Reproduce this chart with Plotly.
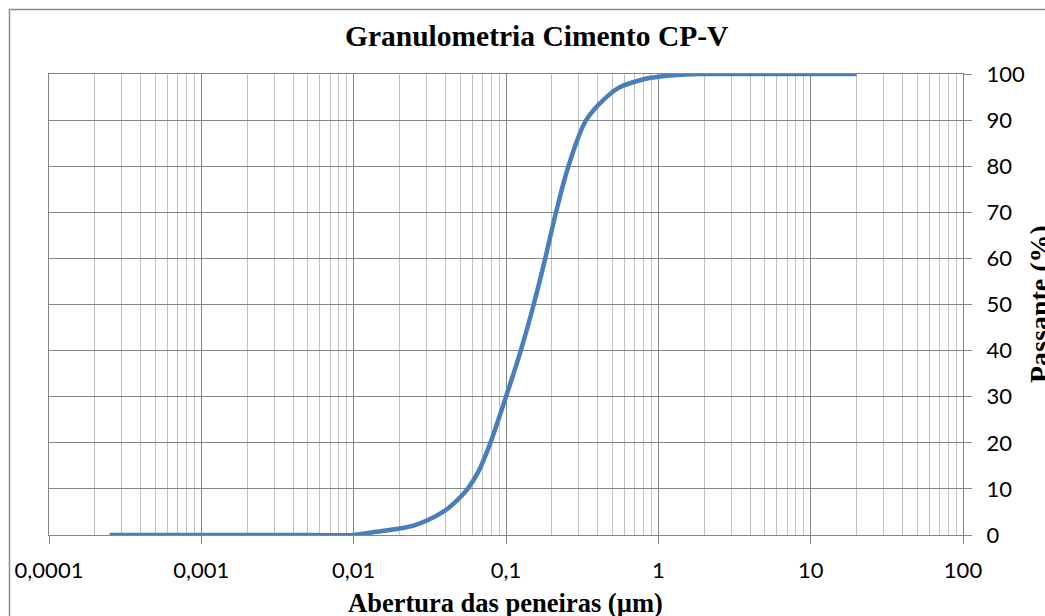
import numpy as np
import plotly.graph_objects as go

# ---- data ----
abertura_um = [0.00025, 0.001, 0.005, 0.01, 0.0134, 0.02, 0.025, 0.031, 0.0386, 0.047,
               0.056, 0.066, 0.078, 0.1, 0.125, 0.152, 0.181, 0.213, 0.257, 0.336,
               0.456, 0.557, 0.79, 1.0, 1.5, 2, 5, 10, 20]
passante_pct = [0, 0, 0, 0, 0.6, 1.4, 2.1, 3.3, 5, 7.3,
                10, 13.8, 19.5, 30, 40, 50, 60, 70, 80, 90,
                95, 97.1, 98.8, 99.4, 99.9, 100, 100, 100, 100]

x_tick_vals = [0.0001, 0.001, 0.01, 0.1, 1, 10, 100]
x_tick_text = ["0,0001", "0,001", "0,01", "0,1", "1", "10", "100"]
y_tick_vals = list(range(0, 101, 10))

title_text = "Granulometria Cimento CP-V"
x_title = "Abertura das peneiras (µm)"
y_title = "Passante (%)"

# ---- figure geometry ----
W, H = 1045, 616
ML, MR, MT, MB = 49, 82, 74, 81
PW, PH = W - ML - MR, H - MT - MB

def px_x(px):
    return (px - ML) / PW

def px_y(py):
    return (H - MB - py) / PH

minor_vals = [m * 10.0 ** e for e in range(-4, 2) for m in range(2, 10)]

serif = "Times New Roman, Liberation Serif, serif"
sans = "Lato, Carlito, Calibri, sans-serif"
major_grid = "#858585"
minor_grid = "#c0c0c0"

fig = go.Figure()
fig.add_trace(go.Scatter(
    x=abertura_um, y=passante_pct, mode="lines",
    line=dict(color="#4A7EBB", width=4.5, shape="spline", smoothing=1.0),
    showlegend=False, hoverinfo="x+y",
))

fig.update_layout(
    width=W, height=H,
    margin=dict(l=ML, r=MR, t=MT, b=MB, pad=0),
    paper_bgcolor="white", plot_bgcolor="white",
    showlegend=False,
    title=dict(text="<b>" + title_text + "</b>", x=536.7 / W, xref="container",
               xanchor="center", y=1 - 36 / H, yref="container", yanchor="middle",
               font=dict(family=serif, size=29.5, color="black")),
)

fig.update_xaxes(
    type="log", range=[-4, 2],
    tickmode="array", tickvals=x_tick_vals, ticktext=x_tick_text,
    showgrid=True, gridcolor=major_grid, gridwidth=1,
    ticks="outside", ticklen=8, tickcolor=major_grid, tickwidth=1,
    showline=True, linecolor=major_grid, linewidth=1, mirror=True,
    tickfont=dict(family=sans, size=22, color="black"),
    ticklabelstandoff=8,
    minor=dict(tickmode="array", tickvals=minor_vals, showgrid=True,
               gridcolor=minor_grid, gridwidth=1, ticks=""),
    zeroline=False,
)
fig.update_yaxes(
    range=[0, 100], side="right",
    tickmode="array", tickvals=y_tick_vals,
    showgrid=True, gridcolor=major_grid, gridwidth=1,
    ticks="outside", ticklen=8, tickcolor=major_grid, tickwidth=1,
    showline=True, linecolor=major_grid, linewidth=1, mirror=True,
    tickfont=dict(family=sans, size=22, color="black"),
    ticklabelstandoff=10,
    zeroline=False,
)

# axis titles
fig.add_annotation(text="<b>" + x_title + "</b>", xref="paper", yref="paper",
                   x=px_x(505), y=px_y(603), xanchor="center", yanchor="middle",
                   showarrow=False, font=dict(family=serif, size=26.5, color="black"))
fig.add_annotation(text="<b>" + y_title + "</b>", xref="paper", yref="paper",
                   x=px_x(1039), y=px_y(304), xanchor="center", yanchor="middle",
                   textangle=-90, showarrow=False,
                   font=dict(family=serif, size=28, color="black"))

# outer chart frame (extends beyond the cropped picture on the right and bottom)
fig.add_shape(type="rect", xref="paper", yref="paper",
              x0=px_x(9.5), y0=px_y(700), x1=px_x(1200), y1=px_y(9.5),
              line=dict(color="#8a8a8a", width=1.5), fillcolor="rgba(0,0,0,0)",
              layer="below")

fig.write_html("out.html")
